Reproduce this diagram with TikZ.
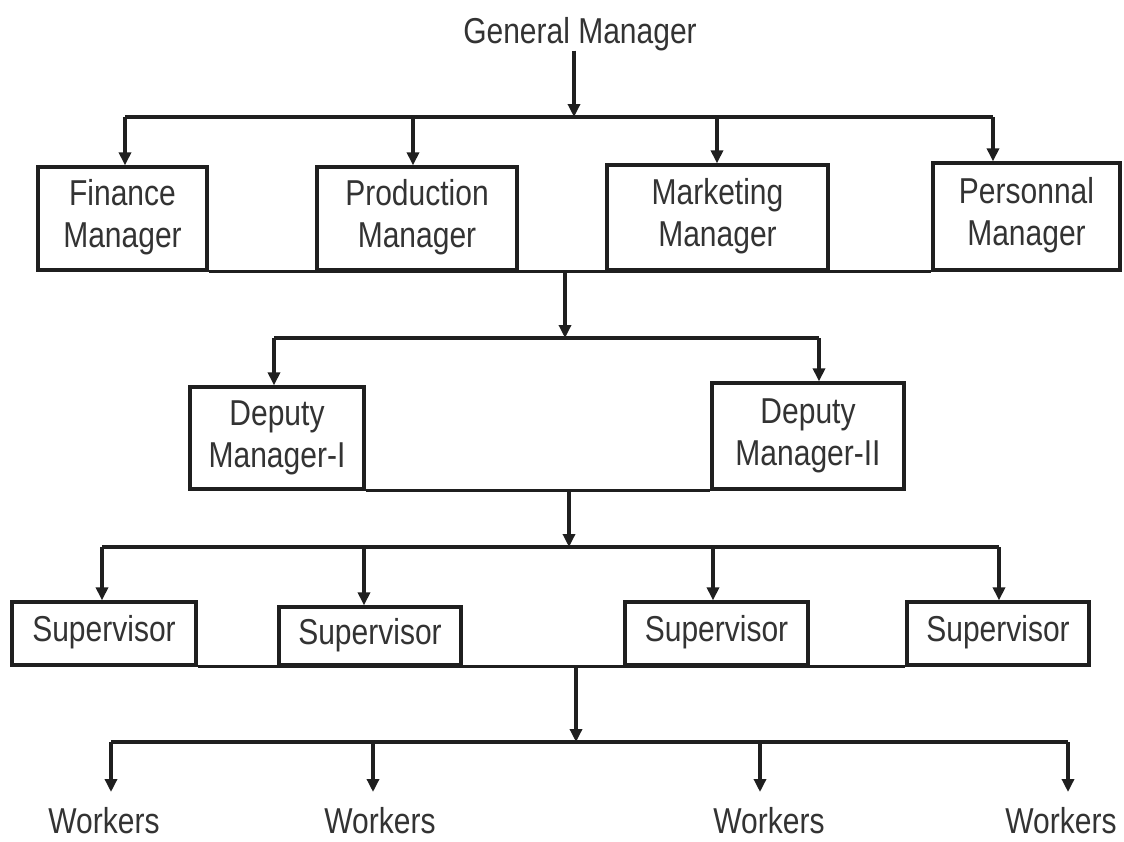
\documentclass[tikz,border=0pt]{standalone}
\usepackage{fontspec}
\setmainfont{Liberation Sans}
\usetikzlibrary{arrows.meta}
\newcommand{\bt}[1]{\scalebox{1}[1.2]{\begin{tabular}{@{}c@{}}#1\end{tabular}}}
\begin{document}
\begin{tikzpicture}[x=1pt,y=-1pt,
  ln/.style={line width=3.3pt,draw=black!88},
  arr/.style={ln,-{Triangle[length=13pt,width=12pt]}},
  box/.style={draw=black!88,line width=3.3pt,inner sep=0pt,fill=white,
    font=\fontsize{30}{35}\selectfont,text=black!80},
  lbl/.style={inner sep=0pt,font=\fontsize{30}{35}\selectfont,text=black!80,anchor=base}]
\useasboundingbox[fill=white] (0,0) rectangle (1124,841);

% General manager
\node[lbl] (gm) at (580,43) {\scalebox{1}[1.2]{General Manager}};

% bar 1
\coordinate (b1) at (574,117);
\coordinate (t1) at (125,117);
\coordinate (t2) at (413,117);
\coordinate (t3) at (717,117);
\coordinate (t4) at (993,117);

% row 1 boxes
\node[box,minimum width=169pt,minimum height=103pt] (fin) at (122.5,218.5) {\bt{Finance\\Manager}};
\node[box,minimum width=200pt,minimum height=103pt] (prod) at (417,218.5) {\bt{Production\\Manager}};
\node[box,minimum width=221pt,minimum height=105pt] (mkt) at (717.5,217.5) {\bt{Marketing\\Manager}};
\node[box,minimum width=187pt,minimum height=107pt] (pers) at (1026.5,216.5) {\bt{Personnal\\Manager}};

\draw[arr] (gm.south -| b1) -- (b1);
\draw[ln] (t1) -- (t4);
\draw[arr] (t1) -- (t1 |- fin.north);
\draw[arr] (t2) -- (t2 |- prod.north);
\draw[arr] (t3) -- (t3 |- mkt.north);
\draw[arr] (t4) -- (t4 |- pers.north);

% row 1 bottom join and drop
\draw[ln] (fin.south east) -- (pers.south west);
\coordinate (c1) at (565,270);
\coordinate (b2) at (565,338);
\draw[arr] (c1) -- (b2);

% deputies
\coordinate (u1) at (274,338);
\coordinate (u2) at (819,338);
\node[box,minimum width=174pt,minimum height=102pt] (d1) at (277,438) {\bt{Deputy\\Manager-I}};
\node[box,minimum width=192pt,minimum height=106pt] (d2) at (808,436) {\bt{Deputy\\Manager-II}};
\draw[ln] (u1) -- (u2);
\draw[arr] (u1) -- (u1 |- d1.north);
\draw[arr] (u2) -- (u2 |- d2.north);
\draw[ln] (d1.south east) -- (d2.south west);
\coordinate (c2) at (569,489);
\coordinate (b3) at (569,547);
\draw[arr] (c2) -- (b3);

% supervisors
\coordinate (v1) at (102,547);
\coordinate (v2) at (364,547);
\coordinate (v3) at (713,547);
\coordinate (v4) at (999,547);
\node[box,minimum width=184pt,minimum height=63pt] (s1) at (104,633.5) {\bt{Supervisor}};
\node[box,minimum width=182pt,minimum height=58pt] (s2) at (370,636) {\bt{Supervisor}};
\node[box,minimum width=183pt,minimum height=63pt] (s3) at (716.5,633.5) {\bt{Supervisor}};
\node[box,minimum width=182pt,minimum height=63pt] (s4) at (998,633.5) {\bt{Supervisor}};
\draw[ln] (v1) -- (v4);
\draw[arr] (v1) -- (v1 |- s1.north);
\draw[arr] (v2) -- (v2 |- s2.north);
\draw[arr] (v3) -- (v3 |- s3.north);
\draw[arr] (v4) -- (v4 |- s4.north);
\draw[ln] (s1.south east) -- (s4.south west);
\coordinate (c3) at (576,665);
\coordinate (b4) at (576,742);
\draw[arr] (c3) -- (b4);

% workers
\coordinate (x1) at (111,742);
\coordinate (x2) at (373,742);
\coordinate (x3) at (760,742);
\coordinate (x4) at (1068,742);
\node[lbl] (w1) at (104,833) {\scalebox{1}[1.2]{Workers}};
\node[lbl] (w2) at (380,833) {\scalebox{1}[1.2]{Workers}};
\node[lbl] (w3) at (769,833) {\scalebox{1}[1.2]{Workers}};
\node[lbl] (w4) at (1061,833) {\scalebox{1}[1.2]{Workers}};
\draw[ln] (x1) -- (x4);
\draw[arr] (x1) -- (x1 |- 0,792);
\draw[arr] (x2) -- (x2 |- 0,792);
\draw[arr] (x3) -- (x3 |- 0,792);
\draw[arr] (x4) -- (x4 |- 0,792);
\end{tikzpicture}
\end{document}
